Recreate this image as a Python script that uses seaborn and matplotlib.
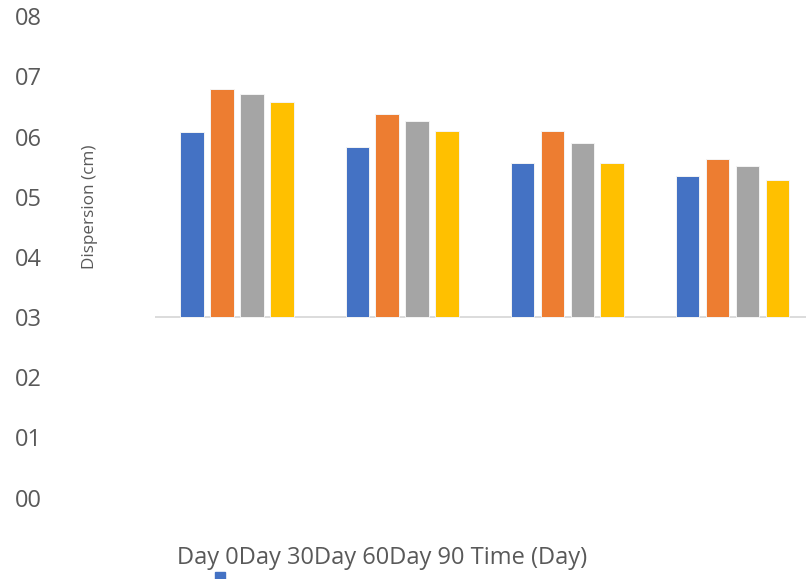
import matplotlib
matplotlib.use("Agg")
import matplotlib.pyplot as plt
from matplotlib.patches import Rectangle
import pandas as pd
import seaborn as sns

# Formulations along the x axis and the storage days shown as series
groups = ["F1", "F2", "F3", "F4"]
days = ["Day 0", "Day 30", "Day 60", "Day 90"]
day0 = [6.07, 5.83, 5.56, 5.34]
day30 = [6.79, 6.37, 6.09, 5.63]
day60 = [6.70, 6.25, 5.89, 5.51]
day90 = [6.57, 6.09, 5.56, 5.28]
colors = ["#4472C4", "#ED7D31", "#A5A5A5", "#FFC000"]
tick_labels = ["00", "01", "02", "03", "04", "05", "06", "07", "08"]
baseline = 3  # horizontal axis crosses the value axis here

sns.set_style("white")
plt.rcParams["font.family"] = ["Open Sans", "DejaVu Sans"]

rows = []
for day, vals in zip(days, [day0, day30, day60, day90]):
    for g, v in zip(groups, vals):
        rows.append({"group": g, "day": day, "value": v, "height": v - baseline})
df = pd.DataFrame(rows)

fig = plt.figure(figsize=(8.06, 5.79), dpi=100)
ax = fig.add_axes([0.1917, 0.1405, 0.8083, 0.8316])

sns.barplot(data=df, x="group", y="height", hue="day", hue_order=days,
            palette=colors, saturation=1, width=0.727, gap=0.23,
            bottom=baseline, errorbar=None, legend=False, ax=ax,
            edgecolor="#F4F4F4", linewidth=0.7, zorder=3)

ax.axhline(baseline, color="#D9D9D9", lw=1.3, zorder=2)
ax.set_xlim(-0.5, 3.448)
ax.set_ylim(0, 8)
ax.set_yticks(range(len(tick_labels)))
ax.set_yticklabels(tick_labels, fontsize=17, color="#595959")
ax.tick_params(axis="y", length=0, pad=81)
ax.set_xticks([])
ax.set_xlabel("")
for s in ax.spines.values():
    s.set_visible(False)

ax.set_ylabel("Dispersion (cm)", fontsize=12.3, color="#595959", va="center")
ax.yaxis.set_label_coords(-0.099, 0.605)

# Legend entries and axis title run together along the bottom
fig.text(177 / 806, (579 - 558) / 579, "".join(days) + " Time (Day)",
         fontsize=17, color="#595959", ha="left", va="center")
fig.patches.append(Rectangle((215 / 806, 0), 10 / 806, 7.5 / 579,
                             transform=fig.transFigure, color=colors[0]))

fig.savefig("out.png", dpi=100)
